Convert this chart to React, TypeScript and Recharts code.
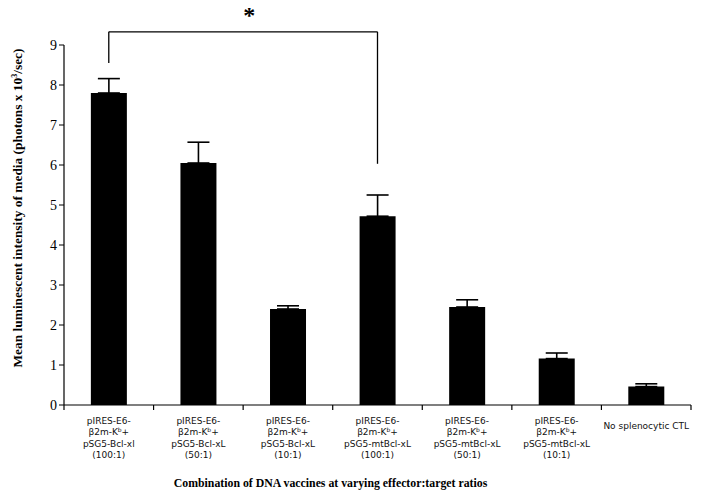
import { Bar, BarChart, ErrorBar, ReferenceLine, XAxis, YAxis } from 'recharts'

const categories = ['bcl100', 'bcl50', 'bcl10', 'mt100', 'mt50', 'mt10', 'noctl']
const tickLines = [
  ['pIRES-E6-', 'β2m-K|b|+', 'pSG5-Bcl-xl', '(100:1)'],
  ['pIRES-E6-', 'β2m-K|b|+', 'pSG5-Bcl-xL', '(50:1)'],
  ['pIRES-E6-', 'β2m-K|b|+', 'pSG5-Bcl-xL', '(10:1)'],
  ['pIRES-E6-', 'β2m-K|b|+', 'pSG5-mtBcl-xL', '(100:1)'],
  ['pIRES-E6-', 'β2m-K|b|+', 'pSG5-mtBcl-xL', '(50:1)'],
  ['pIRES-E6-', 'β2m-K|b|+', 'pSG5-mtBcl-xL', '(10:1)'],
  ['No splenocytic CTL'],
]
const means = [7.8, 6.05, 2.4, 4.72, 2.45, 1.16, 0.46]
const errors = [0.36, 0.52, 0.08, 0.53, 0.18, 0.14, 0.07]
const yTicks = [0, 1, 2, 3, 4, 5, 6, 7, 8, 9]

// significance bracket (data units)
const bracketTop = 9.33
const bracketLeftEnd = 8.55
const bracketRightEnd = 6.03

const W = 706
const H = 499
const M = { top: 45, right: 15, left: 0, bottom: 10 }
const Y_AXIS_W = 64
const BAND = (W - M.left - M.right - Y_AXIS_W) / categories.length
const SERIF = "'Liberation Serif', 'Times New Roman', serif"

const chartData = categories.map((c, i) => ({
  cat: c,
  mean: means[i],
  err: [0, errors[i]],
}))

function CategoryTick(props: any) {
  const { x, y, payload, index } = props
  const lines = tickLines[index] ?? []
  const left = x - BAND / 2
  const single = lines.length === 1
  return (
    <g>
      <line x1={left} x2={left} y1={y - 8} y2={y - 3} stroke="#000" strokeWidth={1.2} />
      {index === categories.length - 1 && (
        <line x1={left + BAND} x2={left + BAND} y1={y - 8} y2={y - 3} stroke="#000" strokeWidth={1.2} />
      )}
      <text
        x={x}
        y={y}
        textAnchor="middle"
        fontFamily="'DejaVu Sans', Verdana, sans-serif"
        fontSize={9}
        fill="#111"
        key={payload.value}
      >
        {lines.map((ln: string, k: number) => {
          const parts = ln.split('|')
          const base = y + (single ? 16 : 11 + k * 11.3)
          return (
            <tspan key={k} x={x} y={base}>
              {parts[0]}
              {parts.length > 1 && (
                <tspan fontSize={6} dy={-3}>
                  {parts[1]}
                </tspan>
              )}
              {parts.length > 1 && <tspan dy={3}>{parts[2]}</tspan>}
            </tspan>
          )
        })}
      </text>
    </g>
  )
}

export default function App() {
  return (
    <div style={{ position: 'absolute', left: 0, top: 0, width: W, height: H, background: '#fff' }}>
      <BarChart width={W} height={H} data={chartData} margin={M} barCategoryGap="30%">
        <XAxis
          dataKey="cat"
          height={84}
          axisLine={{ stroke: '#000', strokeWidth: 1.2 }}
          tickLine={false}
          interval={0}
          tick={<CategoryTick />}
          label={{
            content: (p: any) => {
              const vb = p.viewBox
              return (
                <text
                  x={vb.x + vb.width / 2 - 47}
                  y={vb.y + vb.height - 2}
                  textAnchor="middle"
                  fontFamily={SERIF}
                  fontWeight="bold"
                  fontSize={11.8}
                  fill="#000"
                >
                  Combination of DNA vaccines at varying effector:target ratios
                </text>
              )
            },
          }}
        />
        <YAxis
          width={Y_AXIS_W}
          domain={[0, 9]}
          ticks={yTicks}
          interval={0}
          axisLine={{ stroke: '#000', strokeWidth: 1.2 }}
          tickLine={{ stroke: '#000' }}
          tickSize={5}
          tick={{ fill: '#000', fontSize: 14, fontFamily: SERIF }}
          label={{
            content: (p: any) => {
              const vb = p.viewBox
              const cx = 22
              const cy = vb.y + 163
              return (
                <text
                  x={cx}
                  y={cy}
                  transform={`rotate(-90 ${cx} ${cy})`}
                  textAnchor="middle"
                  fontFamily={SERIF}
                  fontWeight="bold"
                  fontSize={13.4}
                  fill="#000"
                >
                  Mean luminescent intensity of media (photons x 10
                  <tspan fontSize={8} dy={-5}>
                    3
                  </tspan>
                  <tspan dy={5}>/sec)</tspan>
                </text>
              )
            },
          }}
        />
        <Bar dataKey="mean" fill="#000" isAnimationActive={false}>
          <ErrorBar dataKey="err" direction="y" width={11} stroke="#000" strokeWidth={1.6} />
        </Bar>
        <ReferenceLine
          ifOverflow="visible"
          stroke="#000"
          strokeWidth={1.3}
          segment={[
            { x: categories[0], y: bracketTop },
            { x: categories[3], y: bracketTop },
          ]}
          label={{
            value: '*',
            position: 'top',
            offset: 9,
            dx: 6,
            fill: '#000',
            fontSize: 24,
            fontWeight: 'bold',
            fontFamily: SERIF,
          }}
        />
        <ReferenceLine
          ifOverflow="visible"
          stroke="#000"
          strokeWidth={1.3}
          segment={[
            { x: categories[0], y: bracketTop },
            { x: categories[0], y: bracketLeftEnd },
          ]}
        />
        <ReferenceLine
          ifOverflow="visible"
          stroke="#000"
          strokeWidth={1.3}
          segment={[
            { x: categories[3], y: bracketTop },
            { x: categories[3], y: bracketRightEnd },
          ]}
        />
      </BarChart>
    </div>
  )
}
